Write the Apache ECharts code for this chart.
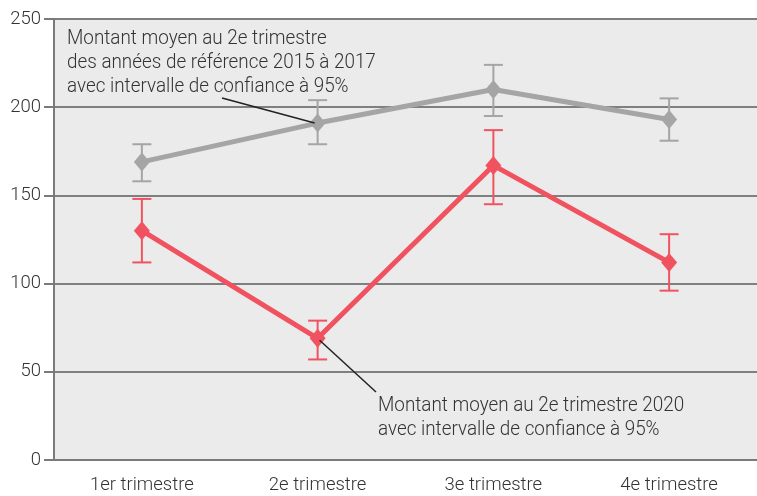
<!DOCTYPE html>
<html>
<head>
<meta charset="utf-8">
<script src="https://cdn.jsdelivr.net/npm/echarts@6/dist/echarts.min.js"></script>
<style>
  html, body { margin: 0; padding: 0; background: #fff; }
  #main { width: 757px; height: 496px; }
</style>
</head>
<body>
<div id="main"></div>
<script>
const categories = ['1er trimestre', '2e trimestre', '3e trimestre', '4e trimestre']
const yTicks = [0, 50, 100, 150, 200, 250]

// moyenne 2015-2017 (gris)
const refMean = [169, 191, 210, 193]
const refLow = [158, 179, 195, 181]
const refHigh = [179, 204, 224, 205]

// 2020 (rouge)
const curMean = [130, 69, 167, 112]
const curLow = [112, 57, 145, 96]
const curHigh = [148, 79, 187, 128]

const GREY = '#a5a5a5'
const RED = '#f0535f'
const FONT = 'Roboto'

const chart = echarts.init(document.getElementById('main'))

// barres d'erreur : trait vertical + deux petits chapeaux
function errorBars(color) {
    return function (params, api) {
        const x = api.value(0)
        const top = api.coord([x, api.value(2)])
        const bot = api.coord([x, api.value(1)])
        const hw = 9.5
        const style = { stroke: color, lineWidth: 2 }
        return {
            type: 'group',
            children: [
                { type: 'line', shape: { x1: top[0], y1: top[1], x2: bot[0], y2: bot[1] }, style },
                { type: 'line', shape: { x1: top[0] - hw, y1: top[1], x2: top[0] + hw, y2: top[1] }, style },
                { type: 'line', shape: { x1: bot[0] - hw, y1: bot[1], x2: bot[0] + hw, y2: bot[1] }, style }
            ]
        }
    }
}

chart.setOption({
    animation: false,
    grid: {
        left: 54, right: -4, top: 19, bottom: 36,
        show: true, backgroundColor: '#ebebeb', borderWidth: 0
    },
    xAxis: {
        type: 'category',
        data: categories,
        boundaryGap: true,
        axisLine: { lineStyle: { color: '#7a7a7a', width: 2 } },
        axisTick: { show: false },
        axisLabel: { color: '#333', fontFamily: FONT, fontWeight: 300, fontSize: 18.5, margin: 16 }
    },
    yAxis: {
        type: 'value',
        min: yTicks[0], max: yTicks[yTicks.length - 1], interval: 50,
        axisLine: { show: true, lineStyle: { color: '#7a7a7a', width: 2 } },
        axisTick: { show: true, length: 10, lineStyle: { color: '#7a7a7a', width: 2 } },
        axisLabel: { color: '#333', fontFamily: FONT, fontWeight: 300, fontSize: 18.5, margin: 13 },
        splitLine: { lineStyle: { color: '#7f7f7f', width: 2 } }
    },
    series: [
        {
            type: 'custom',
            renderItem: errorBars(GREY),
            data: categories.map((c, i) => [i, refLow[i], refHigh[i]]),
            z: 2
        },
        {
            type: 'line',
            data: refMean,
            symbol: 'diamond', symbolSize: [16, 19],
            lineStyle: { color: GREY, width: 5 },
            itemStyle: { color: GREY },
            z: 3
        },
        {
            type: 'custom',
            renderItem: errorBars(RED),
            data: categories.map((c, i) => [i, curLow[i], curHigh[i]]),
            z: 2
        },
        {
            type: 'line',
            data: curMean,
            symbol: 'diamond', symbolSize: [16, 19],
            lineStyle: { color: RED, width: 5 },
            itemStyle: { color: RED },
            z: 3
        }
    ]
})

// annotations avec traits de rappel vers les points
const p1 = chart.convertToPixel({ gridIndex: 0 }, [1, refMean[1]])
const p2 = chart.convertToPixel({ gridIndex: 0 }, [1, curMean[1]])
const textStyle = {
    fill: '#333', fontFamily: FONT, fontWeight: 300, fontSize: 20.5,
    lineHeight: 24, align: 'left', verticalAlign: 'top'
}

chart.setOption({
    graphic: [
        {
            type: 'text', x: 67, y: 27, scaleX: 0.92, z: 10,
            style: Object.assign({ text: 'Montant moyen au 2e trimestre\ndes années de référence 2015 à 2017\navec intervalle de confiance à 95%' }, textStyle)
        },
        {
            type: 'line', z: 10,
            shape: { x1: 222, y1: 98, x2: p1[0] - 3, y2: p1[1] },
            style: { stroke: '#222', lineWidth: 1.5 }
        },
        {
            type: 'text', x: 378, y: 394, scaleX: 0.92, z: 10,
            style: Object.assign({ text: 'Montant moyen au 2e trimestre 2020\navec intervalle de confiance à 95%' }, textStyle)
        },
        {
            type: 'line', z: 10,
            shape: { x1: p2[0] + 2, y1: p2[1] + 2, x2: 376, y2: 392 },
            style: { stroke: '#222', lineWidth: 1.5 }
        }
    ]
})
</script>
</body>
</html>
